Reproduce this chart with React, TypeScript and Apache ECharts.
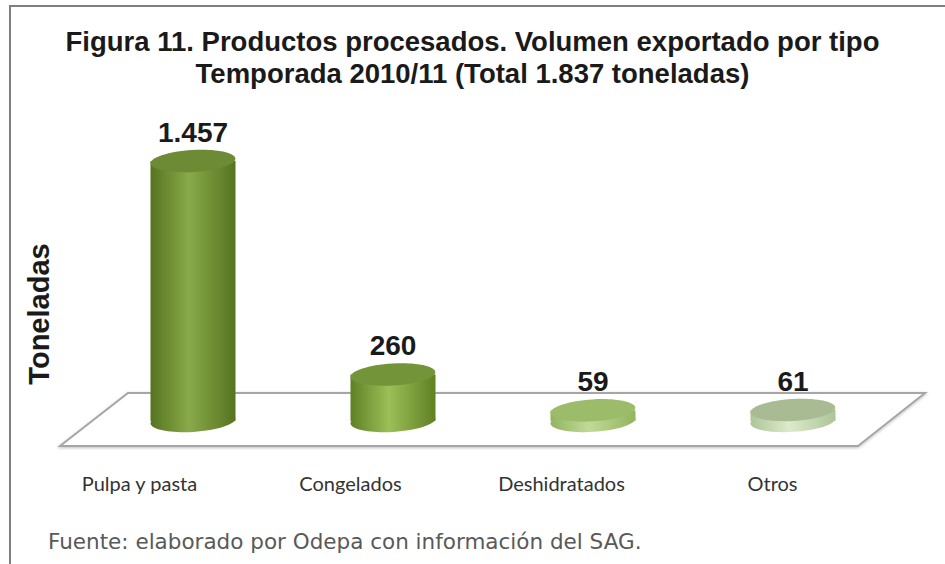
import React, { useEffect, useRef } from "react";
import * as echarts from "echarts";

const categories = ["Pulpa y pasta", "Congelados", "Deshidratados", "Otros"];
const volumes = [1457, 260, 59, 61];
const titleLines = [
  "Figura 11. Productos procesados. Volumen exportado por tipo",
  "Temporada 2010/11 (Total 1.837 toneladas)",
];
const yAxisName = "Toneladas";
const sourceNote = "Fuente: elaborado por Odepa con información del SAG.";

// per-bar styling: [edge, center, top]
const barColors = [
  ["#56741f", "#89a94a", "#6c8b34"],
  ["#5f8024", "#9cbf58", "#739438"],
  ["#93b45e", "#c0da98", "#9cbc6a"],
  ["#aec49a", "#dcebc9", "#a9bb93"],
];

const fmt = (v: number) => {
  const s = String(Math.round(v));
  return s.replace(/\B(?=(\d{3})+(?!\d))/g, ".");
};

export default function App() {
  const ref = useRef<HTMLDivElement>(null);
  useEffect(() => {
    if (!ref.current) return;
    const chart = echarts.init(ref.current, null, { renderer: "svg" });
    const option: any = {
      animation: false,
      backgroundColor: "#ffffff",
      title: {
        text: titleLines.join("\n"),
        left: "center",
        top: 20,
        textStyle: {
          fontFamily: "Liberation Sans",
          fontWeight: "bold",
          fontSize: 27.5,
          lineHeight: 32,
          color: "#1a1a1a",
        },
      },
      grid: [
        { left: 93, right: 52, top: 135.5, bottom: 143 },
        { left: 34, right: 67, top: 135.5, bottom: 143 },
      ],
      xAxis: [
        {
          type: "category",
          data: categories,
          gridIndex: 0,
          axisLine: { show: false },
          axisTick: { show: false },
          axisLabel: { show: false },
        },
        {
          type: "category",
          data: categories,
          gridIndex: 1,
          axisLine: { show: false },
          axisTick: { show: false },
          axisLabel: {
            margin: 52,
            fontFamily: "Lato",
            fontSize: 20,
            color: "#333333",
          },
        },
      ],
      yAxis: [
        {
          type: "value",
          gridIndex: 0,
          min: 0,
          max: 1600,
          show: false,
          splitLine: { show: false },
        },
        {
          type: "value",
          gridIndex: 1,
          min: 0,
          max: 1600,
          show: false,
          splitLine: { show: false },
        },
      ],
      graphic: [
        {
          type: "line",
          z: 10,
          shape: { x1: 9, y1: 6, x2: 945, y2: 6 },
          style: { stroke: "#7f7f7f", lineWidth: 2 },
        },
        {
          type: "line",
          z: 10,
          shape: { x1: 10, y1: 5, x2: 10, y2: 564 },
          style: { stroke: "#7f7f7f", lineWidth: 2 },
        },
        {
          type: "polygon",
          z: 0,
          shape: {
            points: [
              [60, 446],
              [128, 393],
              [925, 393],
              [858, 446],
            ],
          },
          style: {
            fill: "#ffffff",
            stroke: "#a6a6a6",
            lineWidth: 2,
            shadowBlur: 3,
            shadowColor: "rgba(0,0,0,0.25)",
            shadowOffsetY: 1,
          },
        },
        {
          type: "text",
          x: 39,
          y: 314,
          rotation: Math.PI / 2,
          style: {
            text: yAxisName,
            fontFamily: "Liberation Sans",
            fontWeight: "bold",
            fontSize: 29,
            fill: "#1a1a1a",
            textAlign: "center",
            textVerticalAlign: "middle",
          },
        },
        {
          type: "text",
          x: 48,
          y: 541,
          style: {
            text: sourceNote,
            fontFamily: "DejaVu Sans",
            fontSize: 21.5,
            fill: "#595959",
            textAlign: "left",
            textVerticalAlign: "middle",
          },
        },
      ],
      series: [
        {
          type: "custom",
          xAxisIndex: 0,
          yAxisIndex: 0,
          z: 5,
          data: volumes.map((v, i) => [i, v]),
          renderItem: (params: any, api: any) => {
            const idx = api.value(0);
            const val = api.value(1);
            const top = api.coord([idx, val]);
            const base = api.coord([idx, 0]);
            const rx = api.size([1, 0])[0] * 0.2125;
            const ry = 11;
            const cx = top[0];
            const c = barColors[idx % barColors.length];
            const grad = new echarts.graphic.LinearGradient(0, 0, 1, 0, [
              { offset: 0, color: c[0] },
              { offset: 0.45, color: c[1] },
              { offset: 1, color: c[0] },
            ]);
            const rot = 0.06;
            return {
              type: "group",
              children: [
                {
                  type: "ellipse",
                  shape: { cx, cy: base[1], rx, ry },
                  originX: cx,
                  originY: base[1],
                  rotation: rot,
                  style: { fill: grad },
                },
                {
                  type: "rect",
                  shape: { x: cx - rx, y: top[1], width: rx * 2, height: base[1] - top[1] },
                  style: { fill: grad },
                },
                {
                  type: "ellipse",
                  shape: { cx, cy: top[1], rx, ry },
                  originX: cx,
                  originY: top[1],
                  rotation: rot,
                  style: { fill: c[2] },
                },
                {
                  type: "text",
                  x: cx,
                  y: top[1] - 29,
                  style: {
                    text: fmt(val),
                    fontFamily: "Liberation Sans",
                    fontWeight: "bold",
                    fontSize: 28,
                    fill: "#1a1a1a",
                    textAlign: "center",
                    textVerticalAlign: "middle",
                  },
                },
              ],
            };
          },
        },
      ],
    };
    chart.setOption(option);
    return () => chart.dispose();
  }, []);
  return (
    <div
      ref={ref}
      style={{ position: "absolute", left: 0, top: 0, width: 945, height: 564 }}
    />
  );
}
